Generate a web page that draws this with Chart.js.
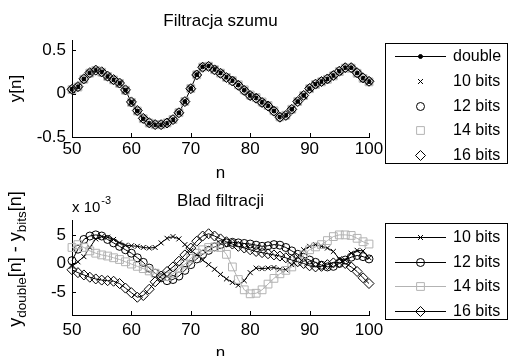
<!DOCTYPE html>
<html>
<head>
<meta charset="utf-8">
<script src="https://cdn.jsdelivr.net/npm/chart.js"></script>
<style>
  html, body { margin: 0; padding: 0; background: #fff; }
  #wrap { position: relative; width: 510px; height: 356px; }
  canvas { position: absolute; left: 0; top: 0; }
</style>
</head>
<body>
<div id="wrap">
  <canvas id="topChart" width="510" height="356"></canvas>
  <canvas id="errChart" width="510" height="356"></canvas>
</div>
<script>
// sample index
const n = [50, 51, 52, 53, 54, 55, 56, 57, 58, 59,
           60, 61, 62, 63, 64, 65, 66, 67, 68, 69,
           70, 71, 72, 73, 74, 75, 76, 77, 78, 79,
           80, 81, 82, 83, 84, 85, 86, 87, 88, 89,
           90, 91, 92, 93, 94, 95, 96, 97, 98, 99, 100];

// filtered signal, double precision
const yDouble = [0.05, 0.08, 0.17, 0.24, 0.27, 0.25, 0.20, 0.16, 0.12, 0.04,
                 -0.10, -0.20, -0.29, -0.34, -0.36, -0.36, -0.34, -0.30, -0.22, -0.09,
                 0.06, 0.22, 0.31, 0.32, 0.28, 0.24, 0.19, 0.15, 0.10, 0.04,
                 -0.02, -0.05, -0.10, -0.14, -0.20, -0.27, -0.25, -0.18, -0.09, -0.02,
                 0.06, 0.11, 0.14, 0.17, 0.21, 0.26, 0.30, 0.30, 0.24, 0.18, 0.14];

// filtering error y_double - y_bits, in units of 1e-3
const err10 = [-0.5, 0.3, 1.2, 2.8, 4.3, 4.7, 4.6, 4.2, 3.6, 3.2,
               3.1, 3.0, 2.8, 2.7, 2.8, 3.6, 4.4, 4.7, 4.3, 3.3,
               2.3, 1.5, 0.6, -0.2, -1.0, -1.9, -2.7, -3.3, -3.8, -3.0,
               -1.6, -0.8, -0.9, -0.8, -0.7, -1.0, -1.1, -0.2, 1.2, 2.4,
               3.0, 3.3, 3.0, 2.7, 2.1, 0.8, 0.6, 1.8, 2.3, 2.2, 1.0];
const err12 = [0.5, 2.5, 4.2, 4.8, 5.0, 4.8, 4.2, 3.6, 3.0, 2.4,
               1.8, 1.0, 0.2, -0.8, -1.7, -2.5, -3.0, -2.8, -2.2, -1.2,
               -0.2, 0.8, 1.6, 2.3, 2.9, 3.3, 3.6, 3.7, 3.6, 3.5,
               3.4, 3.2, 3.0, 3.1, 3.3, 3.2, 2.8, 2.2, 1.6, 1.1,
               0.6, 0.2, -0.3, -0.6, -0.5, 0.0, 0.6, 1.1, 1.4, 1.2, 0.8];
const err14 = [2.8, 3.3, 2.8, 2.2, 1.8, 1.5, 1.3, 1.0, 0.7, 0.3,
               -0.1, -0.5, -0.9, -1.3, -1.7, -2.1, -2.3, -1.8, -0.9, -0.1,
               0.9, 1.8, 2.4, 2.8, 2.9, 2.8, 1.6, -0.6, -2.8, -4.6,
               -5.3, -5.2, -4.6, -3.6, -2.6, -1.8, -1.2, -0.6, 0.4, 1.5,
               2.4, 2.9, 3.3, 4.0, 4.7, 5.0, 5.0, 4.9, 4.4, 3.8, 3.4];
const err16 = [-1.1, -1.6, -2.0, -2.4, -2.7, -2.9, -3.0, -3.1, -3.5, -4.3,
               -5.1, -5.9, -5.6, -4.5, -3.2, -2.2, -1.4, -0.6, 0.4, 1.5,
               2.7, 3.9, 4.8, 5.2, 4.8, 4.3, 3.8, 3.4, 3.0, 2.7,
               2.4, 2.1, 1.9, 1.7, 1.5, 1.3, 1.0, 0.6, 0.3, 0.0,
               -0.4, -0.6, -0.5, -0.2, 0.1, 0.2, 0.0, -0.6, -1.4, -2.5, -3.5];

const bitLabels = ['10 bits', '12 bits', '14 bits', '16 bits'];
const xTicks = [50, 60, 70, 80, 90, 100];
const yTicksTop = [-0.5, 0, 0.5];
const yTicksErr = [-5, 0, 5];

const FONT = "'Liberation Sans', Arial, Helvetica, sans-serif";
const GRAY = '#b3b3b3';
Chart.defaults.font.family = FONT;
Chart.defaults.font.size = 17;
Chart.defaults.color = '#000';

const pts = ys => n.map((x, i) => ({ x: x, y: ys[i] }));
// the quantised outputs: y_bits = y_double - error
const yBits = err => yDouble.map((v, i) => v - err[i] * 1e-3);

// marker drawing for the legend (same shapes chart.js uses)
function drawMarker(ctx, style, x, y, r, stroke, fill) {
  ctx.save();
  ctx.strokeStyle = stroke;
  ctx.fillStyle = fill;
  ctx.lineWidth = 1;
  ctx.beginPath();
  if (style === 'circle') {
    ctx.arc(x, y, r, 0, Math.PI * 2);
  } else if (style === 'rect') {
    const s = r * Math.SQRT1_2;
    ctx.rect(x - s, y - s, 2 * s, 2 * s);
  } else if (style === 'rectRot') {
    ctx.moveTo(x - r, y); ctx.lineTo(x, y - r); ctx.lineTo(x + r, y); ctx.lineTo(x, y + r);
    ctx.closePath();
  } else if (style === 'crossRot') {
    const d = r * Math.SQRT1_2;
    ctx.moveTo(x - d, y - d); ctx.lineTo(x + d, y + d);
    ctx.moveTo(x - d, y + d); ctx.lineTo(x + d, y - d);
  }
  ctx.fill();
  ctx.stroke();
  ctx.restore();
}

const boxLegend = {
  id: 'boxLegend',
  afterDraw(chart, args, o) {
    const ctx = chart.ctx;
    ctx.save();
    ctx.fillStyle = '#fff';
    ctx.fillRect(o.left, o.top, o.right - o.left, o.bottom - o.top);
    ctx.strokeStyle = '#000';
    ctx.lineWidth = 1;
    ctx.strokeRect(o.left + 0.5, o.top + 0.5, o.right - o.left, o.bottom - o.top);
    ctx.font = '16px ' + FONT;
    ctx.textBaseline = 'middle';
    const mid = (o.lineFrom + o.lineTo) / 2;
    chart.data.datasets.forEach((ds, i) => {
      const yy = Math.round(o.firstRow + i * o.rowGap) + 0.5;
      if (ds.showLine !== false) {
        ctx.strokeStyle = ds.borderColor;
        ctx.beginPath();
        ctx.moveTo(o.lineFrom, yy);
        ctx.lineTo(o.lineTo, yy);
        ctx.stroke();
      }
      drawMarker(ctx, ds.pointStyle, mid, yy, ds.pointRadius, ds.pointBorderColor, ds.pointBackgroundColor);
      ctx.fillStyle = '#000';
      ctx.fillText(ds.label, o.textX, yy);
    });
    ctx.restore();
  }
};

// MATLAB style ticks pointing into the axes
const innerTicks = {
  id: 'innerTicks',
  afterDraw(chart) {
    const { ctx, chartArea, scales: { x, y } } = chart;
    ctx.save();
    ctx.strokeStyle = '#000';
    ctx.lineWidth = 1;
    ctx.beginPath();
    x.ticks.forEach(t => {
      const px = Math.round(x.getPixelForValue(t.value)) + 0.5;
      ctx.moveTo(px, chartArea.bottom);
      ctx.lineTo(px, chartArea.bottom - 4);
    });
    y.ticks.forEach(t => {
      const py = Math.round(y.getPixelForValue(t.value)) + 0.5;
      ctx.moveTo(chartArea.left, py);
      ctx.lineTo(chartArea.left + 4, py);
    });
    ctx.stroke();
    ctx.restore();
  }
};

// y label with subscripts and the x 10^-3 exponent of the error plot
const errLabels = {
  id: 'errLabels',
  afterDraw(chart) {
    const { ctx, chartArea } = chart;
    ctx.save();
    ctx.fillStyle = '#000';
    ctx.textBaseline = 'alphabetic';
    ctx.font = '15px ' + FONT;
    ctx.fillText('x 10', chartArea.left, 212);
    const w = ctx.measureText('x 10').width;
    ctx.font = '11px ' + FONT;
    ctx.fillText('-3', chartArea.left + w + 1, 204);

    const parts = [['y', 0], ['double', 1], ['[n] - y', 0], ['bits', 1], ['[n]', 0]];
    const big = '18px ' + FONT, small = '13.5px ' + FONT;
    let total = 0;
    parts.forEach(p => { ctx.font = p[1] ? small : big; total += ctx.measureText(p[0]).width; });
    ctx.translate(21, 259);
    ctx.rotate(-Math.PI / 2);
    let cx = -total / 2;
    parts.forEach(p => {
      ctx.font = p[1] ? small : big;
      ctx.fillText(p[0], cx, p[1] ? 5 : 0);
      cx += ctx.measureText(p[0]).width;
    });
    ctx.restore();
  }
};

const xScale = (h, tickPad, titlePad) => ({
  type: 'linear',
  min: 50,
  max: 100,
  grid: { display: false, drawTicks: false },
  border: { color: '#000', width: 1 },
  afterBuildTicks: s => { s.ticks = xTicks.map(v => ({ value: v })); },
  afterFit: s => { s.height = h; },
  ticks: { padding: tickPad, callback: v => String(v), maxRotation: 0 },
  title: { display: true, text: 'n', padding: { top: 0, bottom: titlePad } }
});

const yScale = (min, max, ticks, title) => ({
  min: min,
  max: max,
  grid: { display: false, drawTicks: false },
  border: { color: '#000', width: 1 },
  afterBuildTicks: s => { s.ticks = ticks.map(v => ({ value: v })); },
  afterFit: s => { s.width = 72; },
  ticks: { padding: 6, callback: v => String(v) },
  title: { display: !!title, text: title, padding: { top: 6, bottom: 0 } }
});

const titleOpts = text => ({
  display: true, text: text, fullSize: false,
  font: { size: 17, weight: 'normal' },
  padding: { top: 11, bottom: 8.6 }
});

const topChart = new Chart(document.getElementById('topChart'), {
  type: 'line',
  data: {
    datasets: [
      { label: 'double', data: pts(yDouble), borderColor: '#000', borderWidth: 1,
        pointStyle: 'circle', pointRadius: 2, pointBackgroundColor: '#000', pointBorderColor: '#000' },
      { label: bitLabels[0], data: pts(yBits(err10)), showLine: false, borderColor: '#000',
        pointStyle: 'crossRot', pointRadius: 3.5, pointBorderColor: '#000', pointBackgroundColor: 'rgba(0,0,0,0)' },
      { label: bitLabels[1], data: pts(yBits(err12)), showLine: false, borderColor: '#000',
        pointStyle: 'circle', pointRadius: 4, pointBorderColor: '#000', pointBackgroundColor: 'rgba(0,0,0,0)' },
      { label: bitLabels[2], data: pts(yBits(err14)), showLine: false, borderColor: GRAY,
        pointStyle: 'rect', pointRadius: 5.5, pointBorderColor: GRAY, pointBackgroundColor: 'rgba(0,0,0,0)' },
      { label: bitLabels[3], data: pts(yBits(err16)), showLine: false, borderColor: '#000',
        pointStyle: 'rectRot', pointRadius: 5, pointBorderColor: '#000', pointBackgroundColor: 'rgba(0,0,0,0)' }
    ].map((d, i, all) => Object.assign(d, { order: all.length - i, clip: false, pointBorderWidth: 1 }))
  },
  options: {
    responsive: false,
    animation: false,
    events: [],
    layout: { padding: { left: 0, right: 141, top: 0, bottom: 172 } },
    plugins: {
      legend: { display: false },
      tooltip: { enabled: false },
      title: titleOpts('Filtracja szumu'),
      boxLegend: { left: 385, top: 43, right: 507, bottom: 163,
                   firstRow: 56, rowGap: 24.75, lineFrom: 395, lineTo: 446, textX: 453 }
    },
    scales: {
      x: xScale(47, 2, 0),
      y: yScale(-0.5, 0.62, yTicksTop, 'y[n]')
    }
  },
  plugins: [innerTicks, boxLegend]
});

const errChart = new Chart(document.getElementById('errChart'), {
  type: 'line',
  data: {
    datasets: [
      { label: bitLabels[0], data: pts(err10), borderColor: '#000',
        pointStyle: 'crossRot', pointRadius: 3.5, pointBorderColor: '#000' },
      { label: bitLabels[1], data: pts(err12), borderColor: '#000',
        pointStyle: 'circle', pointRadius: 4, pointBorderColor: '#000' },
      { label: bitLabels[2], data: pts(err14), borderColor: GRAY,
        pointStyle: 'rect', pointRadius: 5.5, pointBorderColor: GRAY },
      { label: bitLabels[3], data: pts(err16), borderColor: '#000',
        pointStyle: 'rectRot', pointRadius: 5, pointBorderColor: '#000' }
    ].map((d, i, all) => Object.assign(d, {
      order: all.length - i, clip: false, borderWidth: 1, pointBorderWidth: 1,
      pointBackgroundColor: 'rgba(0,0,0,0)'
    }))
  },
  options: {
    responsive: false,
    animation: false,
    events: [],
    layout: { padding: { left: 0, right: 141, top: 180, bottom: 0 } },
    plugins: {
      legend: { display: false },
      tooltip: { enabled: false },
      title: titleOpts('Blad filtracji'),
      boxLegend: { left: 385, top: 223, right: 507, bottom: 319,
                   firstRow: 237, rowGap: 24.5, lineFrom: 395, lineTo: 446, textX: 453 }
    },
    scales: {
      x: xScale(41, 5, -8),
      y: yScale(-9, 7.6, yTicksErr, '')
    }
  },
  plugins: [innerTicks, boxLegend, errLabels]
});
</script>
</body>
</html>
